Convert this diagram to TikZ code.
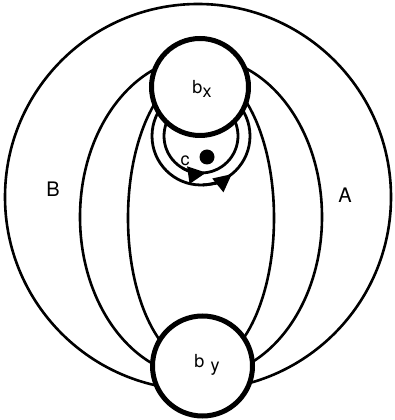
\documentclass[tikz,border=0pt]{standalone}
\usepackage{fontspec}
\setmainfont{TeX Gyre Heros}
\usetikzlibrary{arrows.meta}

\begin{document}
\begin{tikzpicture}[x=1pt,y=1pt,
  fline/.style={line width=2.6pt},
  loop/.style={line width=2.8pt},
  ball/.style={line width=5pt,fill=white},
  lbl/.style={font=\fontsize{18}{18}\selectfont},
  big/.style={font=\fontsize{20}{20}\selectfont},
  tip/.style={-{Triangle[length=18pt,width=17pt]}}]
\useasboundingbox (0,0) rectangle (394,420);
% field lines
\draw[fline] (198,223) circle (193);
\draw[fline] (201,203) ellipse (121 and 160);
\draw[fline] (201,202) ellipse (73 and 148);
% the two loops round the dot
\draw[loop] (201,284) circle (49);
\draw[loop] (201,284) circle (37);
\draw[loop,tip] (201,284) ++(-120:37) arc (-120:-82:37);
\draw[loop,tip] (201,284) ++(-88:49) arc (-88:-51:49);
\fill (207,263) circle (7.5);
% the balls
\draw[ball] (200,333) circle (48.5);
\draw[ball] (202.5,54) circle (50);
\node[lbl] (bx) at (202,331) {b\raisebox{-0.45ex}{x}};
\node[lbl] (by) at (207,55) {b\hspace{6pt}\raisebox{-0.5ex}{y}};
\node[lbl] (c) at (185,259) {c};
\node[big] (B) at (53,231) {B};
\node[big] (A) at (345,225) {A};
\end{tikzpicture}
\end{document}
